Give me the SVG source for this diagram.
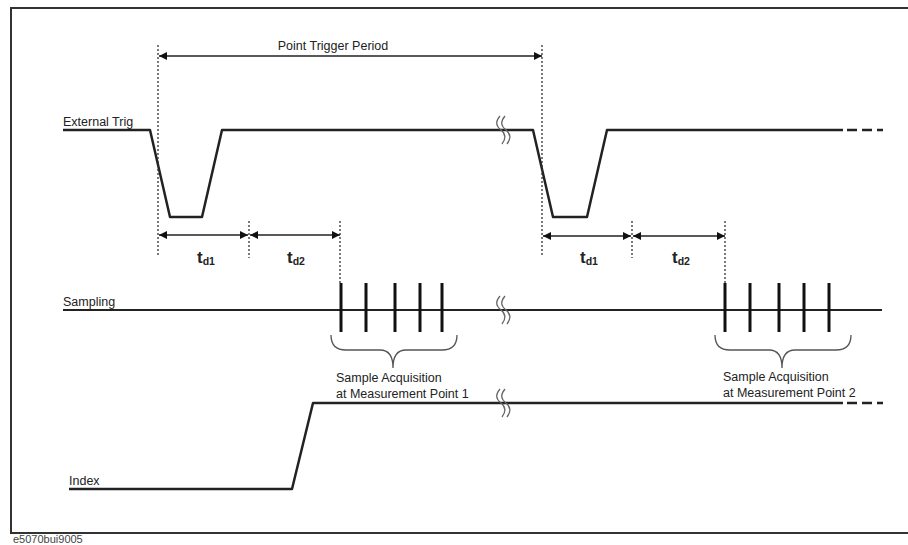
<svg xmlns="http://www.w3.org/2000/svg" width="908" height="545" viewBox="0 0 908 545">
<style>
  text { font-family: "Liberation Sans", Arial, sans-serif; fill: #222; }
  .lbl { font-size: 12.5px; }
  .sig { fill: none; stroke: #222; stroke-width: 2.5; stroke-linejoin: round; }
  .dash { fill: none; stroke: #222; stroke-width: 2.5; stroke-dasharray: 10 5; }
  .guide { fill: none; stroke: #333; stroke-width: 1.3; stroke-dasharray: 2 2; }
  .dim { fill: none; stroke: #222; stroke-width: 1.5; marker-start: url(#ah); marker-end: url(#ah); }
  .tick { stroke: #111; stroke-width: 3; }
  .brace { fill: none; stroke: #555; stroke-width: 1.3; }
  .brk { fill: none; stroke: #666; stroke-width: 1.3; }
  .t { font-size: 17px; font-weight: bold; }
  .sub { font-size: 10.5px; font-weight: bold; }
</style>
<defs>
  <marker id="ah" viewBox="0 0 10 10" refX="10" refY="5" markerWidth="8" markerHeight="8" markerUnits="userSpaceOnUse" orient="auto-start-reverse">
    <path d="M0,0 L10,5 L0,10 Z" fill="#111"/>
  </marker>
  <g id="brk">
    <path d="M-3,-14 C-8,-8 -7,-4 -2,0 C3,4 3,9 -1,14"/>
    <path d="M2,-14 C-3,-8 -2,-4 3,0 C8,4 8,9 4,14"/>
  </g>
</defs>
<rect width="908" height="545" fill="#fff"/>
<rect x="11" y="8" width="910" height="525" fill="none" stroke="#333" stroke-width="2"/>
<text x="13" y="543" style="font-size:11px;fill:#444">e5070bui9005</text>

<g id="external-trig">
  <text class="lbl" x="63" y="126">External Trig</text>
  <path class="sig" d="M63,130 L150,130 L170,217 L202,217 L222,130 L533,130 L553,217 L587,217 L607,130 L843,130"/>
  <path class="dash" d="M847,130 L883,130"/>
  <use href="#brk" x="503" y="130" class="brk"/>
</g>

<g id="sampling">
  <text class="lbl" x="63" y="306">Sampling</text>
  <path class="sig" style="stroke-width:2" d="M63,310 L882,310"/>
  <use href="#brk" x="503" y="310" class="brk"/>
  <g class="tick">
    <line x1="341" y1="283" x2="341" y2="332"/>
    <line x1="366" y1="283" x2="366" y2="332"/>
    <line x1="395" y1="283" x2="395" y2="332"/>
    <line x1="420" y1="283" x2="420" y2="332"/>
    <line x1="442" y1="283" x2="442" y2="332"/>
    <line x1="725" y1="283" x2="725" y2="332"/>
    <line x1="750" y1="283" x2="750" y2="332"/>
    <line x1="779" y1="283" x2="779" y2="332"/>
    <line x1="804" y1="283" x2="804" y2="332"/>
    <line x1="829" y1="283" x2="829" y2="332"/>
  </g>
</g>

<g id="acq1">
  <path class="brace" d="M331,335 Q331,350 346,350 L380,350 Q393,350 393,368 Q393,350 406,350 L442,350 Q457,350 457,335"/>
  <text class="lbl" x="336" y="382">Sample Acquisition</text>
  <text class="lbl" x="336" y="398">at Measurement Point 1</text>
</g>

<g id="acq2">
  <path class="brace" d="M715,335 Q715,350 730,350 L769,350 Q782,350 782,368 Q782,350 795,350 L836,350 Q851,350 851,335"/>
  <text class="lbl" x="723" y="381">Sample Acquisition</text>
  <text class="lbl" x="723" y="397">at Measurement Point 2</text>
</g>

<g id="index">
  <text class="lbl" x="69" y="485">Index</text>
  <path class="sig" d="M69,489 L292,489 L313,403 L843,403"/>
  <path class="dash" d="M847,403 L883,403"/>
  <use href="#brk" x="503" y="403" class="brk"/>
</g>

<g id="connectors">
  <line class="guide" x1="158" y1="45" x2="158" y2="255"/>
  <line class="guide" x1="249" y1="221" x2="249" y2="258"/>
  <line class="guide" x1="340" y1="221" x2="340" y2="284"/>
  <line class="guide" x1="542" y1="45" x2="542" y2="255"/>
  <line class="guide" x1="632" y1="221" x2="632" y2="258"/>
  <line class="guide" x1="725" y1="221" x2="725" y2="284"/>
  <line class="dim" x1="159" y1="56" x2="542" y2="56"/>
  <line class="dim" x1="159" y1="235" x2="248" y2="235"/>
  <line class="dim" x1="250" y1="235" x2="340" y2="235"/>
  <line class="dim" x1="543" y1="236" x2="631" y2="236"/>
  <line class="dim" x1="633" y1="236" x2="725" y2="236"/>
</g>

<g id="labels">
  <text class="lbl" x="333" y="50" text-anchor="middle">Point Trigger Period</text>
  <text class="t" x="197" y="263">t<tspan class="sub" dy="2">d1</tspan></text>
  <text class="t" x="287" y="263">t<tspan class="sub" dy="2">d2</tspan></text>
  <text class="t" x="580" y="263">t<tspan class="sub" dy="2">d1</tspan></text>
  <text class="t" x="672" y="263">t<tspan class="sub" dy="2">d2</tspan></text>
</g>
</svg>
